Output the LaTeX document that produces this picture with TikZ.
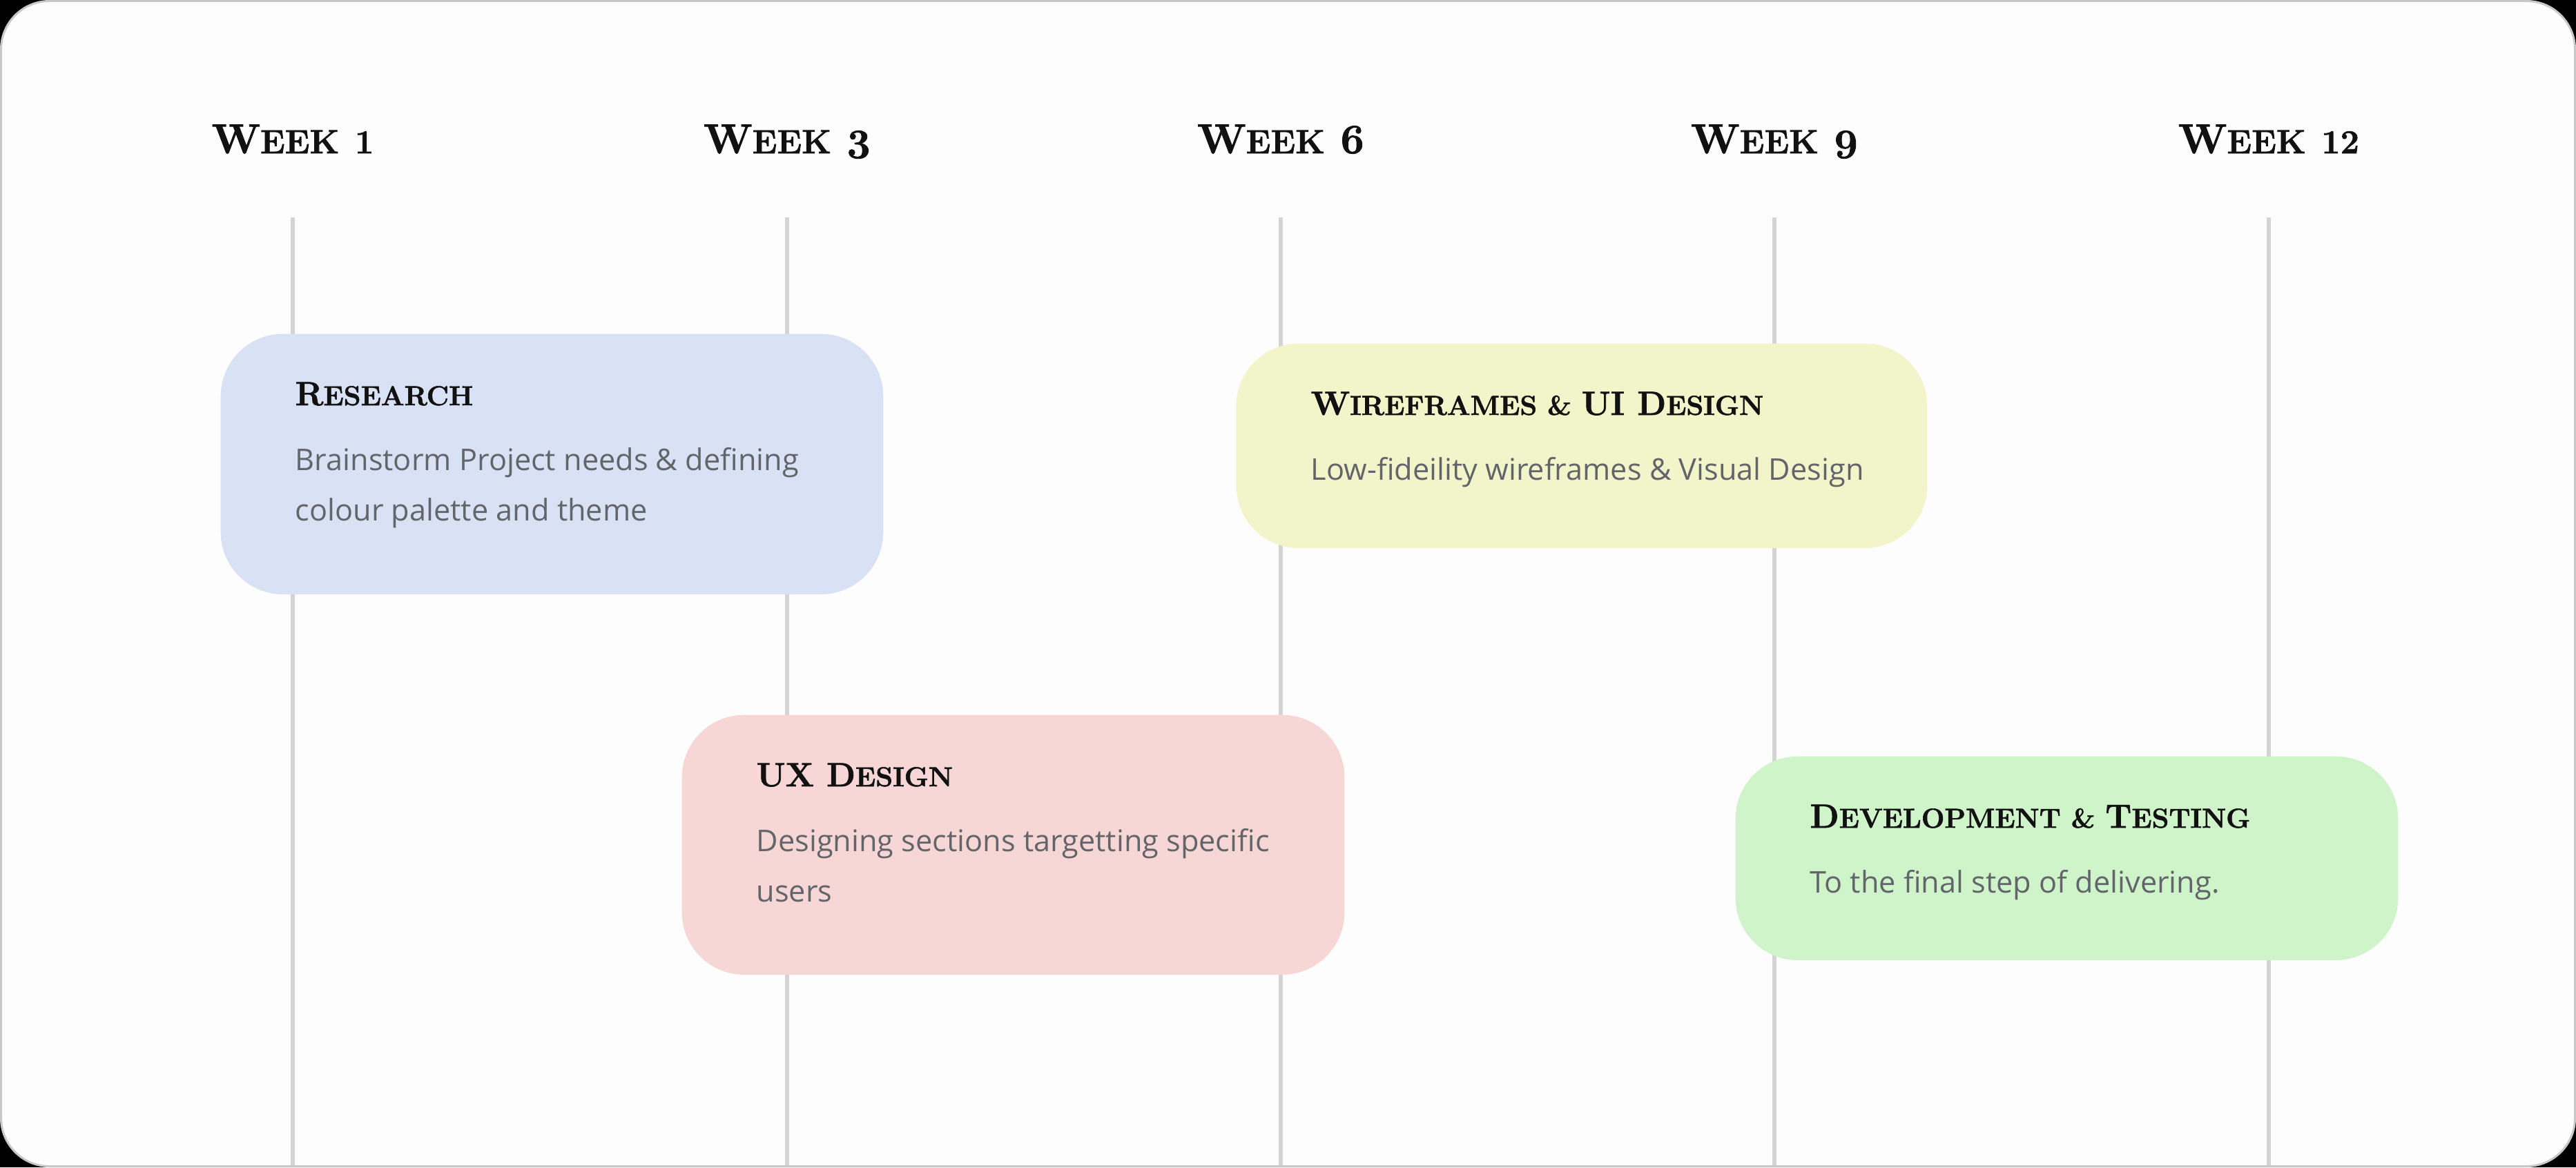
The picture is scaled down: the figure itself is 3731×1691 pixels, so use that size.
\documentclass[tikz,border=0pt]{standalone}
\usepackage{fontspec}
\newfontfamily\bodyfamily{Open Sans}
\newfontfamily\headfamily{Latin Modern Roman}[BoldFeatures={FakeBold=1.5}]

\definecolor{paper}{HTML}{FDFDFD}
\definecolor{framegray}{HTML}{C8C8C8}
\definecolor{gridgray}{HTML}{D4D4D4}
\definecolor{titleblack}{HTML}{111111}
\definecolor{bodygray}{HTML}{62656A}
\definecolor{resblue}{HTML}{D8E2F4}
\definecolor{wireyellow}{HTML}{F2F4CA}
\definecolor{uxpink}{HTML}{F6D7D6}
\definecolor{devgreen}{HTML}{CFF4C9}

% fake small caps for the headings
\newcommand\wksm[1]{{\fontsize{13.8pt}{16pt}\selectfont #1}}
\newcommand\ttsm[1]{{\fontsize{11.3pt}{13pt}\selectfont #1}}
\newcommand\lowdig[1]{\raisebox{-2pt}{#1}}

\tikzset{
  week/.style={anchor=base, inner sep=0pt, text=titleblack,
    font={\headfamily\bfseries\fontsize{17.2pt}{20pt}\selectfont}},
  gridline/.style={draw=gridgray, line width=1.7pt},
  card/.style={anchor=north west, inner sep=0pt, rounded corners=0.9cm,
    minimum width=9.59cm, minimum height=3.77cm},
  cardtitle/.style={anchor=base west, inner sep=0pt, text=titleblack,
    font={\headfamily\bfseries\fontsize{13.8pt}{16pt}\selectfont}},
  cardtext/.style={anchor=base west, inner sep=0pt, text=bodygray,
    font={\bodyfamily\fontsize{12.3pt}{21pt}\selectfont}},
}

\begin{document}
\begin{tikzpicture}[x=0.01cm, y=-0.01cm]
  \useasboundingbox (0,0) rectangle (3731,1691);

  % Frame
  \fill[black] (0,0) rectangle (3731,1691);
  \fill[paper, draw=framegray, line width=0.85pt, rounded corners=0.7cm]
    (1.5,1.5) rectangle (3729.5,1689.5);

  % Weeks
  \node[week] (w1) at (424,222) {W\wksm{EEK} \wksm{1}};
  \node[week] (w3) at (1140,222) {W\wksm{EEK} \lowdig{3}};
  \node[week] (w6) at (1855,222) {W\wksm{EEK} 6};
  \node[week] (w9) at (2570,222) {W\wksm{EEK} \lowdig{9}};
  \node[week] (w12) at (3286,222) {W\wksm{EEK} \wksm{12}};

  \coordinate (top) at (0,315);
  \coordinate (bot) at (0,1688);
  \foreach \w in {w1,w3,w6,w9,w12}
    \draw[gridline] (\w |- top) -- (\w |- bot);

  % Research
  \node[card, fill=resblue] (res) at (319,483) {};
  \node[cardtitle] (res-t) at ([shift={(108,104)}]res.north west)
    {R\ttsm{ESEARCH}};
  \node[cardtext] (res-b) at ([shift={(108,198)}]res.north west)
    {\vtop{\hbox{Brainstorm Project needs \& defining}\hbox{colour palette and theme}}};

  % Wireframes
  \node[card, fill=wireyellow, minimum width=10cm, minimum height=2.96cm] (wire) at (1790,497) {};
  \node[cardtitle] (wire-t) at ([shift={(108,104)}]wire.north west)
    {W\ttsm{IREFRAMES \& }UI D\ttsm{ESIGN}};
  \node[cardtext] (wire-b) at ([shift={(108,198)}]wire.north west)
    {Low-fideility wireframes \& Visual Design};

  % UX Design
  \node[card, fill=uxpink, minimum height=3.76cm] (ux) at (987,1035) {};
  \node[cardtitle] (ux-t) at ([shift={(108,104)}]ux.north west)
    {UX D\ttsm{ESIGN}};
  \node[cardtext] (ux-b) at ([shift={(108,198)}]ux.north west)
    {\vtop{\hbox{Designing sections targetting specific}\hbox{users}}};

  % Development
  \node[card, fill=devgreen, minimum height=2.95cm] (dev) at (2513,1095) {};
  \node[cardtitle] (dev-t) at ([shift={(108,104)}]dev.north west)
    {D\ttsm{EVELOPMENT \& }T\ttsm{ESTING}};
  \node[cardtext] (dev-b) at ([shift={(108,198)}]dev.north west)
    {To the final step of delivering.};

\end{tikzpicture}
\end{document}
